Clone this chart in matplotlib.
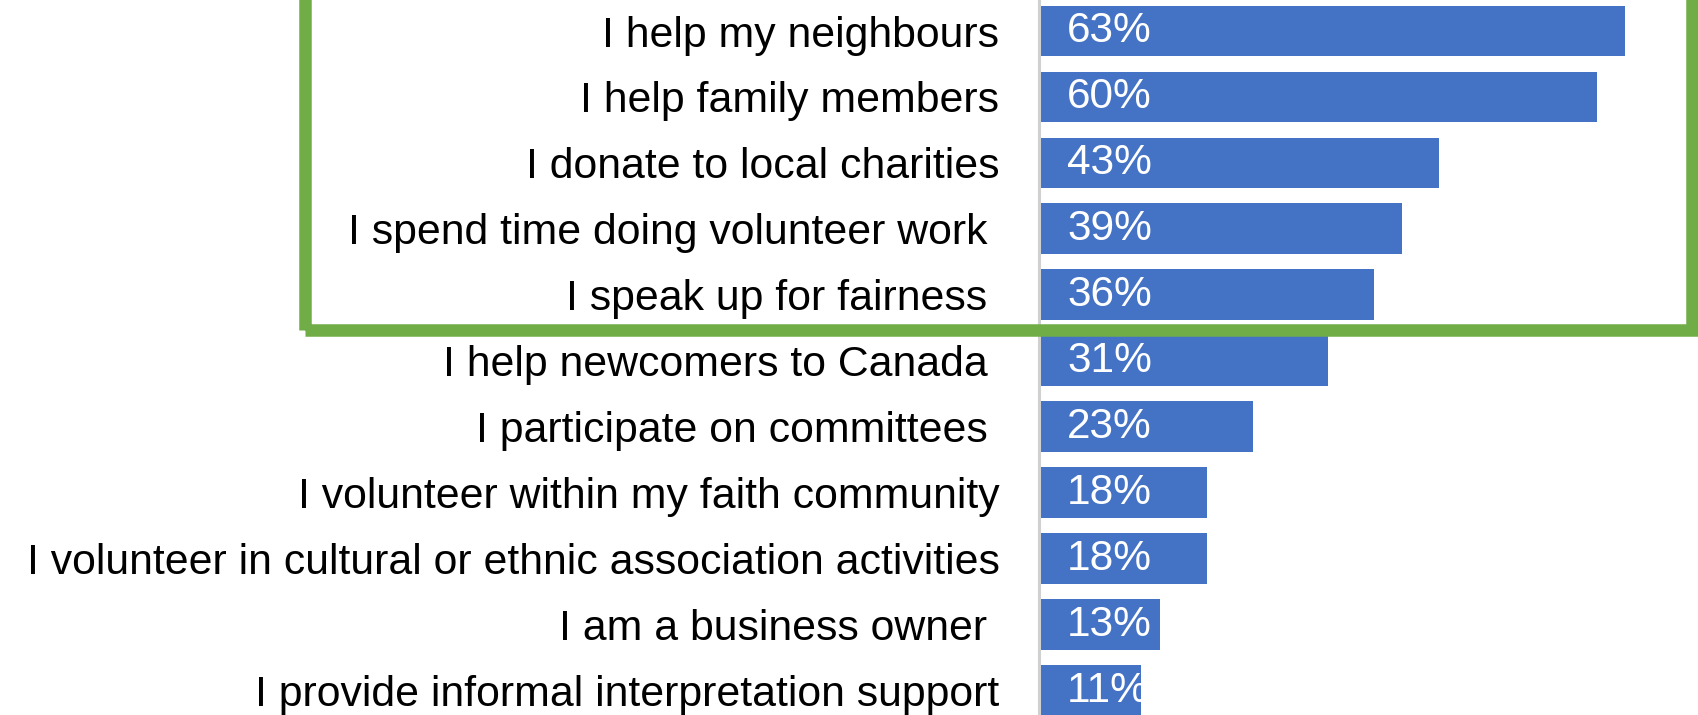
import matplotlib.pyplot as plt
from matplotlib.patches import Rectangle
import numpy as np

plt.rcParams['font.family'] = ['Liberation Sans', 'DejaVu Sans']

labels = [
    "I help my neighbours",
    "I help family members",
    "I donate to local charities",
    "I spend time doing volunteer work ",
    "I speak up for fairness ",
    "I help newcomers to Canada ",
    "I participate on committees ",
    "I volunteer within my faith community",
    "I volunteer in cultural or ethnic association activities",
    "I am a business owner ",
    "I provide informal interpretation support",
]
values = [63, 60, 43, 39, 36, 31, 23, 18, 18, 13, 11]

bar_color = '#4472C4'
box_color = '#70AD47'

W, H = 1698, 715
fig = plt.figure(figsize=(W / 100, H / 100), dpi=100)
ax = fig.add_axes([1039 / W, 0, (W - 1039) / W, 1])

y = np.arange(len(values))
ax.barh(y, values, height=0.77, color=bar_color, zorder=2)

for yi, v in zip(y, values):
    ax.annotate(f"{v}%", xy=(0, yi), xytext=(28, 0), textcoords='offset pixels',
                ha='left', va='center', color='white', fontsize=30.5, zorder=3)

ax.set_xlim(0, 70.8)
ax.set_ylim(10.37, -0.47)
ax.set_yticks(y)
ax.set_yticklabels(labels, fontsize=30.8)
ax.tick_params(axis='y', length=0, pad=28.5)
ax.set_xticks([])
for s in ['top', 'right', 'bottom']:
    ax.spines[s].set_visible(False)
ax.spines['left'].set_color('#d0d0d0')
ax.spines['left'].set_linewidth(2.2)

# green highlight box around the top five items
fig.patches.append(Rectangle((305 / W, 1 - 330 / H), (1692 - 305) / W, 330 / H + 0.1,
                             transform=fig.transFigure, fill=False,
                             edgecolor=box_color, linewidth=9, zorder=5))

fig.savefig('out.png', dpi=100)
